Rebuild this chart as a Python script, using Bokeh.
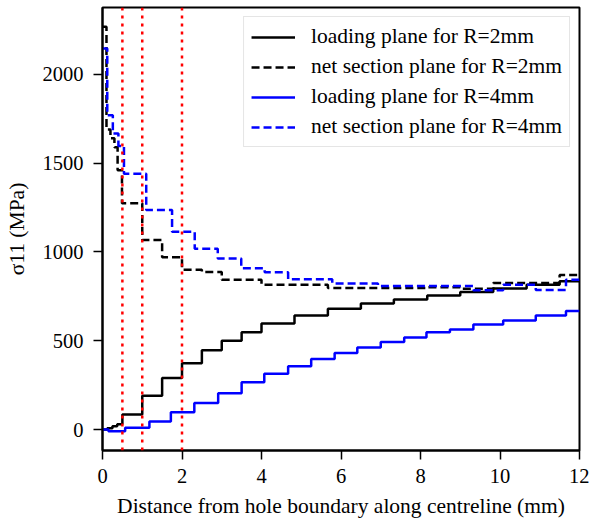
from bokeh.plotting import figure
from bokeh.models import Range1d, FixedTicker, Legend, LegendItem, Span
from bokeh.embed import file_html
from bokeh.resources import INLINE

# sigma11 along the centreline, as element-wise (stepped) values
x_load_r2 = [0, 0.12, 0.25, 0.37, 0.5, 1.0, 1.5, 2.0, 2.5, 3.0, 3.5, 4.0, 4.83,
             5.67, 6.5, 7.33, 8.17, 9.0, 9.83, 10.67, 11.5, 12.0]
s_load_r2 = [0, 8, 18, 30, 85, 190, 291, 374, 446, 500, 548, 597, 642,
             680, 710, 732, 755, 775, 795, 815, 835, 835]

x_net_r2 = [0, 0.1, 0.2, 0.3, 0.38, 0.49, 1.0, 1.5, 2.0, 2.5, 3.0, 4.0, 5.67,
            8.17, 9.0, 9.83, 11.5, 12.0]
s_net_r2 = [2268, 1690, 1640, 1590, 1460, 1275, 1068, 970, 900, 887, 844, 815, 797,
            802, 793, 825, 870, 870]

x_load_r4 = [0, 0.15, 0.57, 1.18, 1.72, 2.31, 2.91, 3.5, 4.07, 4.67, 5.25, 5.84,
             6.41, 7.0, 7.59, 8.15, 8.74, 9.33, 10.08, 10.9, 11.66, 12.0]
s_load_r4 = [0, -10, 10, 45, 98, 150, 205, 267, 314, 357, 398, 431,
             462, 493, 519, 548, 564, 592, 614, 643, 667, 667]

x_net_r4 = [0, 0.12, 0.26, 0.4, 0.54, 1.1, 1.75, 2.32, 2.9, 3.49, 4.08, 4.67,
            5.78, 6.93, 9.33, 10.08, 10.9, 11.66, 12.0]
s_net_r4 = [2146, 1770, 1667, 1597, 1441, 1236, 1114, 1018, 964, 909, 886, 847,
            823, 808, 784, 816, 786, 844, 844]

# distances (mm) marked with red dotted guide lines
marker_distances = [0.5, 1.0, 2.0]

x_ticks = [0, 2, 4, 6, 8, 10, 12]
y_ticks = [0, 500, 1000, 1500, 2000]

labels = ["loading plane for R=2mm", "net section plane for R=2mm",
          "loading plane for R=4mm", "net section plane for R=4mm"]

FONT = "Liberation Serif"

p = figure(width=589, height=525, output_backend="svg", toolbar_location=None,
           x_range=Range1d(0, 12), y_range=Range1d(-118, 2377),
           min_border_left=102, min_border_right=10, min_border_top=7,
           min_border_bottom=75)
p.background_fill_color = "white"
p.border_fill_color = "white"
p.grid.visible = False
p.outline_line_color = "black"
p.outline_line_width = 2
p.outline_line_alpha = 1

for ax in (p.xaxis[0], p.yaxis[0]):
    ax.axis_line_width = 2
    ax.axis_line_color = "black"
    ax.major_tick_line_width = 1.5
    ax.major_tick_line_color = "black"
    ax.major_tick_out = 9
    ax.major_tick_in = 0
    ax.minor_tick_line_color = None
    ax.major_label_text_font = FONT
    ax.major_label_text_font_size = "20.5px"
    ax.major_label_text_color = "black"
    ax.axis_label_text_font = FONT
    ax.axis_label_text_font_size = "21.5px"
    ax.axis_label_text_font_style = "normal"
    ax.axis_label_text_color = "black"

p.xaxis.ticker = FixedTicker(ticks=x_ticks)
p.yaxis.ticker = FixedTicker(ticks=y_ticks)
p.xaxis.axis_label = "Distance from hole boundary along centreline (mm)"
p.yaxis.axis_label = "σ11 (MPa)"
p.xaxis.major_label_standoff = 9
p.yaxis.major_label_standoff = 10
p.xaxis.axis_label_standoff = 8
p.yaxis.axis_label_standoff = 11

for d in marker_distances:
    p.add_layout(Span(location=d, dimension="height", line_color="red",
                      line_width=2.5, line_dash="3 5"))

r1 = p.step(x_load_r2, s_load_r2, mode="after", line_color="black", line_width=2.5)
r2 = p.step(x_net_r2, s_net_r2, mode="after", line_color="black", line_width=2.5,
            line_dash="8 4")
r3 = p.step(x_load_r4, s_load_r4, mode="after", line_color="#0000ff", line_width=2.5)
r4 = p.step(x_net_r4, s_net_r4, mode="after", line_color="#0000ff", line_width=2.5,
            line_dash="8 4")

legend = Legend(items=[LegendItem(label=l, renderers=[r])
                       for l, r in zip(labels, [r1, r2, r3, r4])],
                location="top_right")
legend.label_text_font = FONT
legend.label_text_font_size = "21.5px"
legend.label_text_color = "black"
legend.glyph_width = 44
legend.glyph_height = 20
legend.label_height = 20
legend.label_standoff = 16
legend.spacing = 5
legend.padding = 7
legend.margin = 9
legend.border_line_color = "#cccccc"
legend.border_line_width = 1.5
legend.background_fill_alpha = 1
p.add_layout(legend)

with open("out.html", "w") as f:
    f.write(file_html(p, INLINE))
